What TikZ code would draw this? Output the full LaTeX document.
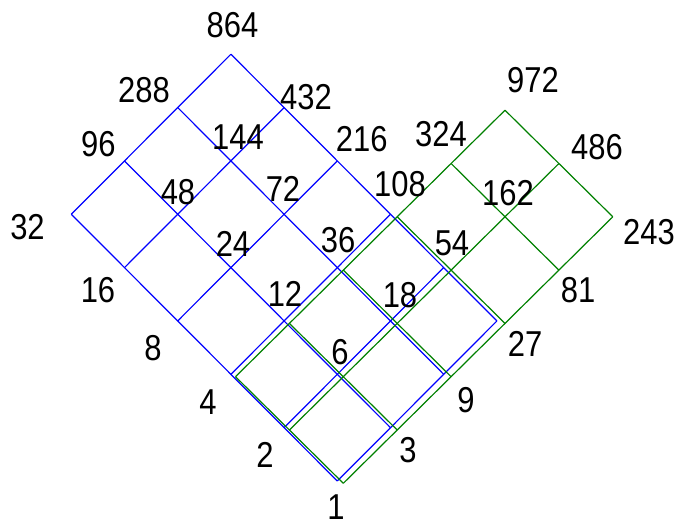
\documentclass[tikz,border=0pt]{standalone}
\usepackage{fontspec}
\newfontfamily\divfont[FakeStretch=0.86]{Liberation Sans}
\usetikzlibrary{positioning}

\begin{document}
\begin{tikzpicture}[x=0.5pt, y=-0.5pt, line width=0.6pt]
  \useasboundingbox (0,0) rectangle (680,526);

  % Divisor labels
  \tikzset{divlabel/.style={inner sep=0pt, font=\divfont\fontsize{18}{18}\selectfont}}

  % Lattice of 864 = 2^5 3^3 (blue)
  \foreach \i in {0,...,5}
    \foreach \j in {0,...,3}
      \coordinate (b-\i-\j) at ({337.3+53.2*(\j-\i)}, {481-53.35*(\i+\j)});
  \foreach \i in {0,...,5}
    \draw[blue] (b-\i-0) -- (b-\i-3);
  \foreach \j in {0,...,3}
    \draw[blue] (b-0-\j) -- (b-5-\j);

  % Lattice of 972 = 2^2 3^5 (green)
  \foreach \i in {0,...,2}
    \foreach \j in {0,...,5}
      \coordinate (g-\i-\j) at ({343.3+53.9*(\j-\i)}, {483.3-53.3*(\i+\j)});
  \foreach \i in {0,...,2}
    \draw[green!50!black] (g-\i-0) -- (g-\i-5);
  \foreach \j in {0,...,5}
    \draw[green!50!black] (g-0-\j) -- (g-2-\j);

  % Labels
  \foreach \n/\x/\y in {864/232.5/25.3, 288/144/90.3, 432/306/97.5, 96/98.3/144,
      144/238/136.7, 216/361.7/139, 32/27.5/226.7, 48/178/192, 72/283/189,
      108/400/184, 16/98/290, 24/233/244, 36/338/240, 12/285/294, 18/400/295,
      8/153/348, 6/340/352, 4/208/402, 2/265/455, 1/336/507.5, 3/408/450,
      9/466/400, 27/525/344, 54/452/243, 81/578/290, 162/508/193,
      324/441/134, 486/597/147, 972/533/80, 243/649/232.5}
    \node[divlabel] (n\n) at (\x,\y) {\n};

\end{tikzpicture}
\end{document}
